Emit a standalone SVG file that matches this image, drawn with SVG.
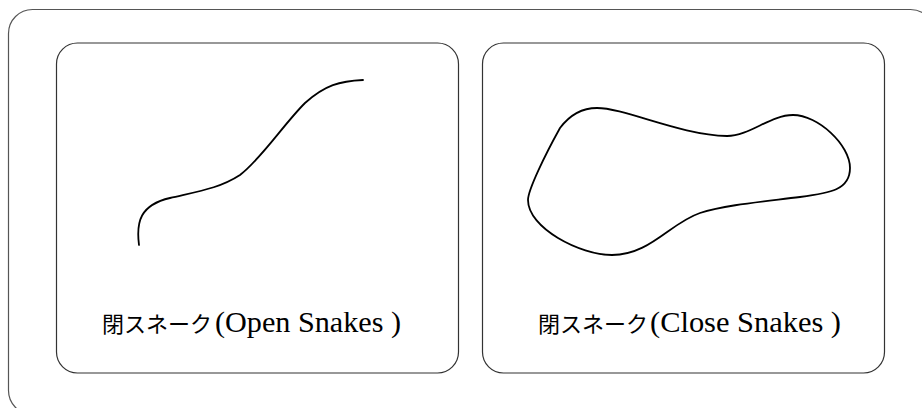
<svg xmlns="http://www.w3.org/2000/svg" width="922" height="408" viewBox="0 0 922 408">
<style>
.frame{fill:#fff;stroke:#555;stroke-width:1.2}
.panel{fill:#fff;stroke:#333;stroke-width:1.2}
.snake{fill:none;stroke:#000;stroke-width:1.8;stroke-linecap:round}
.jp{font-family:"Noto Sans CJK JP","Noto Sans",sans-serif;font-size:22px}
.en{font-family:"Liberation Serif","Times New Roman",serif;font-size:30px}
text{fill:#000}
</style>
<rect class="frame" x="8.5" y="9.5" width="926" height="405" rx="24" ry="24"/>
<g id="open-panel">
<rect class="panel" x="56.5" y="43" width="402" height="330" rx="21" ry="21"/>
<path class="snake" d="M139,245 C136,222 140,205 170,198 C200,191 220,188 240,175 C262,158 283,125 305,103 C325,85 340,81 363,80"/>
<text class="jp" x="102" y="332">閉スネーク</text>
<text class="en" x="215" y="332" textLength="186" lengthAdjust="spacingAndGlyphs">(Open Snakes )</text>
</g>
<g id="close-panel">
<rect class="panel" x="482.5" y="43" width="402" height="330" rx="21" ry="21"/>
<path class="snake" d="M597,108 C625,108 680,135 727,136 C750,136 770,115 793,115 C818,115 850,145 850,168 C850,190 830,193 800,197 C760,202 725,205 700,213 C670,223 650,255 612,255 C580,255 528,228 528,200 C528,190 545,155 560,128 C572,112 585,108 597,108 Z"/>
<text class="jp" x="538" y="332">閉スネーク</text>
<text class="en" x="650" y="332" textLength="191" lengthAdjust="spacingAndGlyphs">(Close Snakes )</text>
</g>
<g id="connectors"/>
</svg>
